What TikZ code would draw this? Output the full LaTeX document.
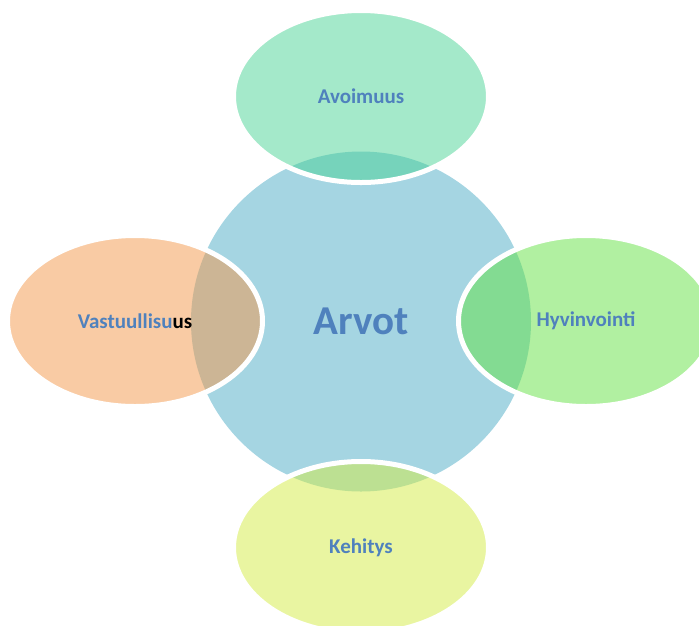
\documentclass[tikz,border=0pt]{standalone}
\usepackage{fontspec}
\setmainfont{Carlito}
\definecolor{circfill}{RGB}{165,213,226}
\definecolor{topc}{RGB}{73,211,149}
\definecolor{leftc}{RGB}{243,151,73}
\definecolor{rightc}{RGB}{99,225,67}
\definecolor{botc}{RGB}{211,235,67}
\definecolor{labelblue}{RGB}{79,129,189}
\begin{document}
\begin{tikzpicture}[x=1pt,y=-1pt,
  petal/.style={draw=white,line width=5pt,fill opacity=0.5,draw opacity=1},
  lbl/.style={font=\fontsize{21}{25}\selectfont\bfseries,text=labelblue},
  hub/.style={font=\fontsize{41}{48}\selectfont\bfseries,text=labelblue}]
\useasboundingbox (0,0) rectangle (699,625);
\fill[circfill] (361,321.5) circle (170);
\draw[petal,fill=topc] (361,96.5) ellipse (127.5 and 86);
\draw[petal,fill=leftc] (135,321) ellipse (127.5 and 85.5);
\draw[petal,fill=rightc] (586,321) ellipse (127.5 and 85.5);
\draw[petal,fill=botc] (361,547.5) ellipse (127.5 and 86);
\node[hub] (center) at (361,321) {Arvot};
\node[lbl] (top) at (361,96.5) {Avoimuus};
\node[lbl] (left) at (135,321) {Vastuullisu\textcolor{black}{us}};
\node[lbl] (right) at (586,321) {Hyvinvointi};
\node[lbl] (bottom) at (361,547.5) {Kehitys};
\end{tikzpicture}
\end{document}
